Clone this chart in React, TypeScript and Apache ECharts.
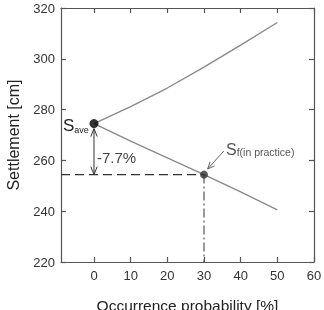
import React, { useEffect, useRef } from "react";
import * as echarts from "echarts";

const xMin = -9;
const xMax = 60;
const xTickValues = [0, 10, 20, 30, 40, 50, 60];
const yMin = 220;
const yMax = 320;
const yStep = 20;

const probability = [0, 10, 20, 30, 40, 50];
const upperSettlement = [274.5, 281.2, 288.5, 296.7, 305.4, 314.3];
const lowerSettlement = [274.5, 267.6, 261.0, 254.4, 247.6, 240.5];

const saveProb = 0;
const saveValue = 274.5;
const sfProb = 30;
const sfValue = 254.4;
const changeLabel = "-7.7%";
const pointerStart = [35.4, 263.7];
const pointerEnd = [31.0, 256.6];

const xTitle = "Occurrence probability [%]";
const yTitle = "Settlement [cm]";

const FONT = "'Liberation Sans', Arial, Helvetica, sans-serif";

function head(tip: number[], tail: number[], len: number, w: number) {
  const dx = tip[0] - tail[0];
  const dy = tip[1] - tail[1];
  const l = Math.sqrt(dx * dx + dy * dy) || 1;
  const ux = dx / l, uy = dy / l;
  const nx = -uy, ny = ux;
  return [
    [tip[0] - ux * len + nx * w, tip[1] - uy * len + ny * w],
    [tip[0], tip[1]],
    [tip[0] - ux * len - nx * w, tip[1] - uy * len - ny * w],
  ];
}

export default function App() {
  const ref = useRef<HTMLDivElement>(null);
  useEffect(() => {
    if (!ref.current) return;
    const chart = echarts.init(ref.current, undefined, { renderer: "svg" });
    const axisLineStyle = { color: "#555", width: 1.2 };
    const option: any = {
      animation: false,
      textStyle: { fontFamily: FONT },
      grid: { left: 61, right: 10, top: 8, bottom: 48, containLabel: false, outerBoundsMode: "none" },
      xAxis: [
        {
          type: "value",
          position: "bottom",
          min: xMin,
          max: xMax,
          axisLine: { show: true, onZero: false, lineStyle: axisLineStyle },
          axisTick: { show: true, inside: true, length: 5, customValues: xTickValues, lineStyle: axisLineStyle },
          axisLabel: { customValues: xTickValues, fontSize: 13, color: "#333", margin: 7, fontFamily: FONT },
          splitLine: { show: false },
          name: xTitle,
          nameLocation: "middle",
          nameGap: 35,
          nameMoveOverlap: false,
          nameTextStyle: { fontSize: 15.5, color: "#222", fontFamily: FONT },
        },
        {
          type: "value",
          position: "top",
          min: xMin,
          max: xMax,
          axisLine: { show: true, onZero: false, lineStyle: axisLineStyle },
          axisTick: { show: true, inside: true, length: 5, customValues: xTickValues, lineStyle: axisLineStyle },
          axisLabel: { show: false },
          splitLine: { show: false },
        },
      ],
      yAxis: [
        {
          type: "value",
          position: "left",
          min: yMin,
          max: yMax,
          interval: yStep,
          axisLine: { show: true, onZero: false, lineStyle: axisLineStyle },
          axisTick: { show: true, inside: true, length: 5, lineStyle: axisLineStyle },
          axisLabel: { fontSize: 13, color: "#333", margin: 6, fontFamily: FONT },
          splitLine: { show: false },
          name: yTitle,
          nameLocation: "middle",
          nameGap: 40,
          nameMoveOverlap: false,
          nameTextStyle: { fontSize: 16, color: "#222", fontFamily: FONT },
        },
        {
          type: "value",
          position: "right",
          min: yMin,
          max: yMax,
          interval: yStep,
          axisLine: { show: true, onZero: false, lineStyle: axisLineStyle },
          axisTick: { show: true, inside: true, length: 5, lineStyle: axisLineStyle },
          axisLabel: { show: false },
          splitLine: { show: false },
        },
      ],
      series: [
        {
          type: "line",
          data: probability.map((p, i) => [p, upperSettlement[i]]),
          symbol: "none",
          lineStyle: { color: "#8a8a8a", width: 1.4 },
          silent: true,
        },
        {
          type: "line",
          data: probability.map((p, i) => [p, lowerSettlement[i]]),
          symbol: "none",
          lineStyle: { color: "#8a8a8a", width: 1.4 },
          silent: true,
        },
        {
          type: "line",
          data: [[xMin, sfValue], [sfProb, sfValue]],
          symbol: "none",
          lineStyle: { color: "#333", width: 1.2, type: [9, 5] },
          silent: true,
        },
        {
          type: "line",
          data: [[sfProb, sfValue], [sfProb, yMin]],
          symbol: "none",
          lineStyle: { color: "#555", width: 1.2, type: [9, 3, 2, 3] },
          silent: true,
        },
        {
          type: "custom",
          data: [[saveProb, saveValue]],
          silent: true,
          renderItem: (_params: any, api: any) => {
            const pSave = api.coord([saveProb, saveValue]);
            const pSf = api.coord([sfProb, sfValue]);
            const topTip = [pSave[0], pSave[1] + 5];
            const botTip = [pSave[0], pSf[1]];
            const ps = api.coord(pointerStart);
            const pe = api.coord(pointerEnd);
            const dark = { stroke: "#333", lineWidth: 1, fill: null };
            const grey = { stroke: "#666", lineWidth: 1, fill: null };
            return {
              type: "group",
              children: [
                { type: "line", shape: { x1: topTip[0], y1: topTip[1], x2: botTip[0], y2: botTip[1] }, style: dark },
                { type: "polyline", shape: { points: head(topTip, botTip, 8, 3.2) }, style: dark },
                { type: "polyline", shape: { points: head(botTip, topTip, 8, 3.2) }, style: dark },
                { type: "line", shape: { x1: ps[0], y1: ps[1], x2: pe[0], y2: pe[1] }, style: grey },
                { type: "polyline", shape: { points: head(pe, ps, 7, 3) }, style: grey },
                {
                  type: "text",
                  x: pSave[0] - 31,
                  y: pSave[1] + 0.5,
                  style: {
                    text: "{s|S}{sub|ave}",
                    align: "left",
                    verticalAlign: "middle",
                    fill: "#222",
                    rich: {
                      s: { fontSize: 17, fontFamily: FONT, lineHeight: 20, verticalAlign: "bottom", fill: "#222" },
                      sub: { fontSize: 9, fontFamily: FONT, lineHeight: 12, verticalAlign: "bottom", fill: "#222" },
                    },
                  },
                },
                {
                  type: "text",
                  x: pSave[0] + 3,
                  y: pSf[1] - 17,
                  style: { text: changeLabel, font: `15px ${FONT}`, fill: "#444", align: "left", verticalAlign: "middle" },
                },
                {
                  type: "text",
                  x: pSf[0] + 22,
                  y: pSf[1] - 28,
                  style: {
                    text: "{s|S}{sub|f(in practice)}",
                    align: "left",
                    verticalAlign: "middle",
                    fill: "#555",
                    rich: {
                      s: { fontSize: 16, fontFamily: FONT, lineHeight: 22, verticalAlign: "bottom", fill: "#555" },
                      sub: { fontSize: 10.5, fontFamily: FONT, lineHeight: 8, verticalAlign: "bottom", fill: "#555" },
                    },
                  },
                },
              ],
            };
          },
        },
        {
          type: "scatter",
          data: [[saveProb, saveValue]],
          symbolSize: 9,
          itemStyle: { color: "#000" },
          silent: true,
          z: 5,
        },
        {
          type: "scatter",
          data: [[sfProb, sfValue]],
          symbolSize: 8,
          itemStyle: { color: "#333" },
          silent: true,
          z: 5,
        },
      ],
    };
    chart.setOption(option);
    return () => chart.dispose();
  }, []);
  return <div ref={ref} style={{ width: 324, height: 310, position: "fixed", left: 0, top: 0 }} />;
}
